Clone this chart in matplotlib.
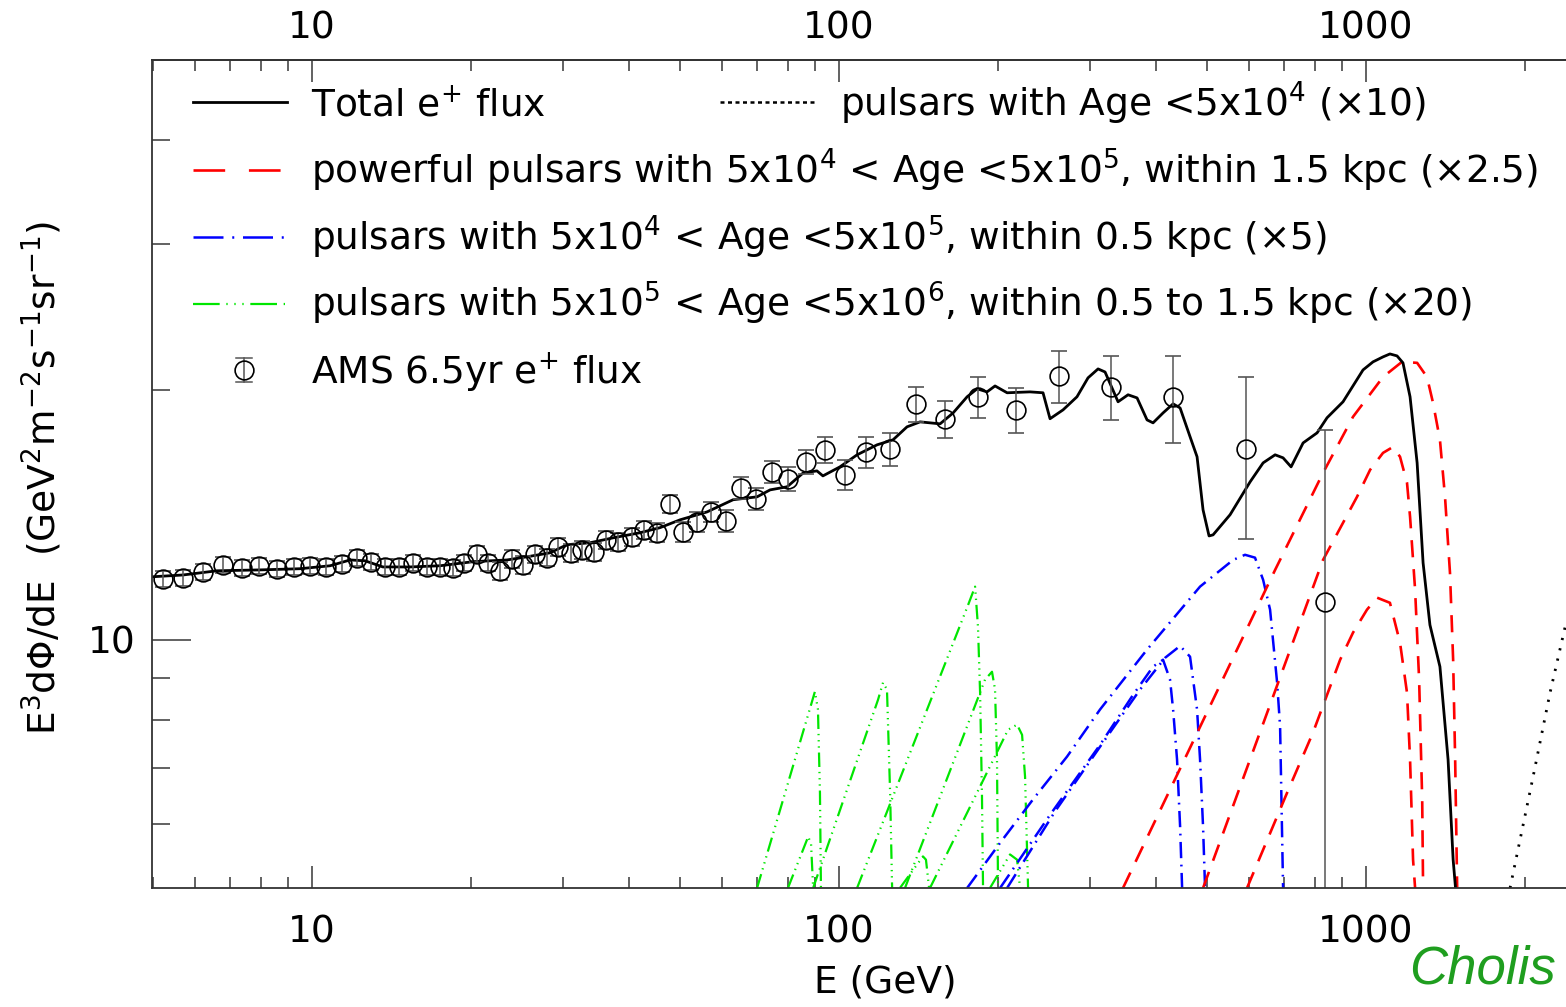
import numpy as np
import matplotlib
matplotlib.use("Agg")
import matplotlib.pyplot as plt
from matplotlib import ticker
from matplotlib.lines import Line2D

# AMS 6.5yr positron data (E in GeV, E^3 dphi/dE)
ams_e = [5.21, 5.69, 6.21, 6.78, 7.37, 7.93, 8.58, 9.24, 9.91, 10.63,
         11.40, 12.17, 12.94, 13.76, 14.63, 15.55, 16.53, 17.49, 18.52, 19.43,
         20.56, 21.58, 22.73, 23.96, 25.14, 26.49, 27.92, 29.30, 31.01, 32.53,
         34.28, 36.13, 38.07, 40.48, 42.66, 45.14, 47.78, 50.58, 53.77, 57.18,
         61.05, 65.16, 69.58, 74.64, 80.04, 86.56, 94.07, 102.7, 112.5, 125.0,
         140.0, 158.9, 183.5, 216.7, 261.5, 328.2, 430.4, 592.0, 836.0]
ams_f = [11.84, 11.88, 12.07, 12.31, 12.21, 12.28, 12.18, 12.24, 12.28, 12.24,
         12.35, 12.56, 12.42, 12.24, 12.24, 12.38, 12.24, 12.24, 12.21, 12.38,
         12.69, 12.38, 12.11, 12.52, 12.31, 12.69, 12.56, 12.94, 12.73, 12.83,
         12.76, 13.20, 13.12, 13.31, 13.57, 13.46, 14.58, 13.49, 13.87, 14.26,
         13.91, 15.24, 14.79, 15.94, 15.63, 16.39, 16.94, 15.81, 16.85, 16.99,
         19.25, 18.47, 19.63, 18.93, 20.80, 20.18, 19.63, 16.99, 11.11]
ams_err = [0.26, 0.26, 0.26, 0.27, 0.27, 0.27, 0.27, 0.27, 0.27, 0.27,
           0.27, 0.28, 0.28, 0.28, 0.28, 0.28, 0.28, 0.28, 0.28, 0.29,
           0.29, 0.29, 0.29, 0.30, 0.30, 0.30, 0.30, 0.31, 0.31, 0.31,
           0.32, 0.33, 0.33, 0.34, 0.35, 0.35, 0.37, 0.37, 0.38, 0.40,
           0.41, 0.45, 0.46, 0.50, 0.52, 0.55, 0.60, 0.65, 0.72, 0.78,
           0.93, 0.95, 1.10, 1.20, 1.50, 1.80, 2.35, 3.75, 6.80]

# total e+ flux
tot_e = [4.97, 5.69, 6.60, 7.97, 9.49, 10.82, 11.81, 12.61, 13.63, 15.35,
         17.49, 20.21, 23.44, 25.59, 28.29, 30.47, 33.69, 37.26, 41.93, 45.74,
         49.92, 56.17, 62.94, 69.9, 74.0, 79.7, 85.5, 90.8, 93.2, 100.4,
         108.2, 118.1, 126.6, 134.6, 142.5, 155.5, 164.6, 175.0, 182.8, 190.9,
         197.7, 208.4, 230.3, 243.8, 251.4, 266.1, 282.8, 296.8, 310.1, 319.7,
         338.4, 353.5, 367.7, 384.1, 394.3, 411.9, 430.4, 443.8, 463.5, 477.9,
         490.6, 503.6, 512.5, 552.1, 602.5, 637.8, 672.1, 695.9, 720.7, 759.5,
         807.4, 843.3, 904.3, 986.9, 1031, 1077, 1110, 1145, 1175, 1212,
         1250, 1283, 1322, 1381, 1431, 1463, 1482]
tot_f = [11.91, 11.97, 12.11, 12.14, 12.18, 12.28, 12.48, 12.45, 12.24, 12.24,
         12.28, 12.42, 12.48, 12.59, 12.73, 13.02, 13.09, 13.27, 13.46, 13.65,
         13.95, 14.26, 14.75, 14.87, 15.16, 15.29, 15.89, 15.98, 15.76, 16.16,
         16.71, 17.18, 17.42, 18.06, 18.31, 18.21, 18.77, 19.63, 20.07, 19.90,
         20.23, 19.85, 19.90, 19.85, 18.47, 18.93, 19.63, 20.69, 21.21, 21.03,
         19.36, 19.74, 19.57, 18.41, 18.26, 18.77, 19.25, 19.03, 17.57, 16.62,
         14.34, 13.34, 13.38, 14.15, 15.50, 16.34, 16.71, 16.57, 16.16, 17.27,
         17.76, 18.52, 19.36, 21.15, 21.63, 21.93, 22.11, 21.99, 21.57, 19.63,
         16.34, 12.38, 10.42, 9.28, 7.17, 5.43, 4.93]

# powerful pulsars, 5e4 < age < 5e5, within 1.5 kpc (x2.5)
red1_e = [345.8, 672.1, 828.6, 944.7, 1077, 1170, 1250, 1305, 1340, 1381, 1412, 1443, 1463, 1476, 1489]
red1_f = [5.02, 12.14, 15.89, 18.57, 20.74, 21.63, 21.57, 20.74, 19.30, 17.42, 14.87, 12.04, 9.46, 7.17, 5.02]
red2_e = [490.6, 828.6, 961.3, 1018, 1077, 1125, 1160, 1196, 1212, 1239, 1261, 1278, 1283]
red2_f = [5.02, 12.48, 14.87, 16.03, 16.80, 17.08, 16.62, 15.46, 14.07, 11.49, 8.95, 6.42, 5.02]
red3_e = [594.5, 708.3, 793.2, 892.9, 944.7, 1004, 1049, 1110, 1160, 1196, 1212, 1228, 1239]
red3_f = [5.02, 6.54, 7.73, 9.46, 10.20, 10.87, 11.24, 11.08, 9.92, 8.63, 7.17, 5.43, 5.02]

# pulsars, 5e4 < age < 5e5, within 0.5 kpc (x5)
blue1_e = [175.0, 202.1, 233.4, 270.8, 312.8, 384.1, 484.2, 559.4, 589.3, 615.6, 637.8, 657.5, 678.0, 686.9, 695.9]
blue1_f = [5.02, 5.69, 6.42, 7.23, 8.24, 9.73, 11.59, 12.48, 12.66, 12.56, 11.81, 10.87, 8.88, 7.86, 5.02]
blue2_e = [202.1, 251.4, 312.8, 361.3, 394.3, 411.9, 424.7, 430.4, 437.9, 443.8, 447.7]
blue2_f = [5.02, 6.15, 7.47, 8.58, 9.28, 9.46, 8.95, 8.24, 7.17, 5.95, 5.02]
blue3_e = [208.4, 257.0, 319.7, 372.6, 415.5, 443.8, 463.5, 477.9, 484.2, 490.6, 494.9]
blue3_f = [5.02, 6.21, 7.58, 8.71, 9.51, 9.83, 9.54, 8.24, 7.17, 5.95, 5.02]

# pulsars, 5e5 < age < 5e6, within 0.5 to 1.5 kpc (x20)
green_e = [
    [69.9, 88.5, 90.0, 91.2, 92.0, 92.4],
    [89.3, 118.6, 121.2, 123.3, 125.0, 126.1],
    [108.2, 175.8, 181.2, 183.5, 185.2, 186.7, 187.6],
    [133.4, 189.2, 195.1, 197.7, 199.4, 200.3],
    [148.8, 209.3, 217.7, 222.5, 225.4, 228.4],
    [80.0, 87.4, 88.5, 89.3],
    [130.5, 144.3, 146.2, 148.2],
    [193.4, 211.1, 217.7, 220.5],
]
green_f = [
    [5.02, 8.35, 8.66, 8.24, 6.54, 5.02],
    [5.02, 8.47, 8.88, 8.71, 6.54, 5.02],
    [5.02, 11.02, 11.59, 10.37, 8.63, 6.54, 5.02],
    [5.02, 8.95, 9.15, 8.71, 7.17, 5.02],
    [5.02, 7.79, 7.90, 7.68, 6.84, 5.02],
    [5.02, 5.79, 5.67, 5.02],
    [5.02, 5.48, 5.43, 5.02],
    [5.02, 5.51, 5.43, 5.02],
]

# pulsars with age < 5e4 (x10)
young_e = [1876, 2075, 2234, 2396]
young_f = [5.02, 6.84, 8.63, 10.48]

# axis ticks
x_major = [10, 100, 1000]
x_minor = [5, 6, 7, 8, 9, 20, 30, 40, 50, 60, 70, 80, 90,
           200, 300, 400, 500, 600, 700, 800, 900, 2000, 3000]
y_major = [10]
y_minor = [6, 7, 8, 9, 20, 30, 40]

W, H = 1566, 1007
fig = plt.figure(figsize=(W / 100, H / 100), dpi=100)


def fx(px):
    return px / W


def fy(py):
    return 1 - py / H


# axes run past the right edge of the picture (the original is cropped)
ax = fig.add_axes([fx(152), fy(888), 1465.5 / W, 828 / H])
ax.set_xscale('log')
ax.set_yscale('log')
ax.set_xlim(4.97, 3000)
ax.set_ylim(5.02, 50)

red = '#ff0000'
blue = '#0000ff'
green = '#00e600'
fs = 27

for e, f in zip(green_e, green_f):
    ax.plot(e, f, color=green, lw=1.6, ls=(0, (6.5, 2.2, 0.6, 2.2, 0.6, 2.2, 0.6, 2.2)))
for e, f in [(blue1_e, blue1_f), (blue2_e, blue2_f), (blue3_e, blue3_f)]:
    ax.plot(e, f, color=blue, lw=1.8, ls=(0, (6.5, 2.6, 0.7, 2.6)))
for e, f in [(red1_e, red1_f), (red2_e, red2_f), (red3_e, red3_f)]:
    ax.plot(e, f, color=red, lw=1.9, ls=(0, (6.5, 4.5)))
ax.plot(young_e, young_f, color='black', lw=2.0, ls=(0, (0.8, 3.0)))
ax.plot(tot_e, tot_f, color='black', lw=2.0)
ax.errorbar(ams_e, ams_f, yerr=ams_err, fmt='o', ms=13.5, mfc='none', mec='black',
            mew=1.2, ecolor='#555555', elinewidth=1.1, capsize=6, capthick=1.1)

# axes styling
for side in ['left', 'top', 'bottom']:
    ax.spines[side].set_color('#333333')
    ax.spines[side].set_linewidth(1.3)
ax.spines['right'].set_visible(False)

fmt = ticker.FuncFormatter(lambda v, p: '%g' % v)
ax.xaxis.set_major_locator(ticker.FixedLocator(x_major))
ax.xaxis.set_minor_locator(ticker.FixedLocator(x_minor))
ax.xaxis.set_major_formatter(fmt)
ax.xaxis.set_minor_formatter(ticker.NullFormatter())
ax.yaxis.set_major_locator(ticker.FixedLocator(y_major))
ax.yaxis.set_minor_locator(ticker.FixedLocator(y_minor))
ax.yaxis.set_major_formatter(fmt)
ax.yaxis.set_minor_formatter(ticker.NullFormatter())

ax.tick_params(axis='x', which='both', direction='in', top=False,
               colors='#555555', labelcolor='black', labelsize=fs)
ax.tick_params(axis='x', which='major', length=16, width=1.3, pad=19)
ax.tick_params(axis='x', which='minor', length=8, width=1.3)
ax.tick_params(axis='y', which='both', direction='in', right=False,
               colors='#555555', labelcolor='black', labelsize=fs)
ax.tick_params(axis='y', which='major', length=28, width=1.3, pad=12)
ax.tick_params(axis='y', which='minor', length=13, width=1.3)

# top axis with its own label spacing
top = ax.secondary_xaxis('top')
top.xaxis.set_major_locator(ticker.FixedLocator(x_major))
top.xaxis.set_minor_locator(ticker.FixedLocator(x_minor))
top.xaxis.set_major_formatter(fmt)
top.xaxis.set_minor_formatter(ticker.NullFormatter())
top.spines['top'].set_color('#333333')
top.spines['top'].set_linewidth(1.3)
top.tick_params(axis='x', which='both', direction='in', colors='#555555',
                labelcolor='black', labelsize=fs)
top.tick_params(axis='x', which='major', length=16, width=1.3, pad=10)
top.tick_params(axis='x', which='minor', length=8, width=1.3)

fig.text(fx(885), fy(983), 'E (GeV)', ha='center', va='center', fontsize=fs)
fig.text(fx(42), fy(478), 'E$^3$d\u03a6/dE  (GeV$^2$m$^{-2}$s$^{-1}$sr$^{-1}$)',
         ha='center', va='center', rotation=90, fontsize=fs)

# legend drawn by hand (two-column first row, full-width rows below)
x0, x1 = fx(193), fx(287)
fig.add_artist(Line2D([x0, x1], [fy(102)] * 2, color='black', lw=2.0, transform=fig.transFigure))
fig.add_artist(Line2D([fx(720), fx(815)], [fy(102)] * 2, color='black', lw=1.8,
                      ls=(0, (1.6, 1.4)), transform=fig.transFigure))
fig.add_artist(Line2D([x0, x1], [fy(170)] * 2, color=red, lw=1.9,
                      ls=(0, (12, 9)), transform=fig.transFigure))
fig.add_artist(Line2D([x0, x1], [fy(237)] * 2, color=blue, lw=1.8,
                      ls=(0, (12, 3.5, 0.8, 3.5)), transform=fig.transFigure))
fig.add_artist(Line2D([x0, x1], [fy(304)] * 2, color=green, lw=1.6,
                      ls=(0, (12, 3, 0.6, 3, 0.6, 3, 0.6, 3)), transform=fig.transFigure))
fig.add_artist(Line2D([fx(244), fx(244)], [fy(358), fy(382)], color='#555555', lw=1.1,
                      transform=fig.transFigure))
fig.add_artist(Line2D([fx(236), fx(252)], [fy(358), fy(358)], color='#555555', lw=1.1,
                      transform=fig.transFigure))
fig.add_artist(Line2D([fx(236), fx(252)], [fy(382), fy(382)], color='#555555', lw=1.1,
                      transform=fig.transFigure))
fig.add_artist(Line2D([fx(244)], [fy(370)], marker='o', ms=13.5, mfc='none', mec='black',
                      mew=1.2, transform=fig.transFigure))

labels = [
    (311, 116, 'Total e$^{+}$ flux'),
    (840, 116, 'pulsars with Age <5x10$^{4}$ (\u00d710)'),
    (311, 183, 'powerful pulsars with 5x10$^{4}$ < Age <5x10$^{5}$, within 1.5 kpc (\u00d72.5)'),
    (311, 250, 'pulsars with 5x10$^{4}$ < Age <5x10$^{5}$, within 0.5 kpc (\u00d75)'),
    (311, 317, 'pulsars with 5x10$^{5}$ < Age <5x10$^{6}$, within 0.5 to 1.5 kpc (\u00d720)'),
    (311, 384, 'AMS 6.5yr e$^{+}$ flux'),
]
for px, py, s in labels:
    fig.text(fx(px), fy(py), s, ha='left', va='baseline', fontsize=fs)

fig.text(fx(1409), fy(984), 'Cholis', color='#1f9e1f', style='italic',
         fontsize=38, family='Liberation Sans', ha='left', va='baseline')

fig.savefig('out.png', dpi=100)
